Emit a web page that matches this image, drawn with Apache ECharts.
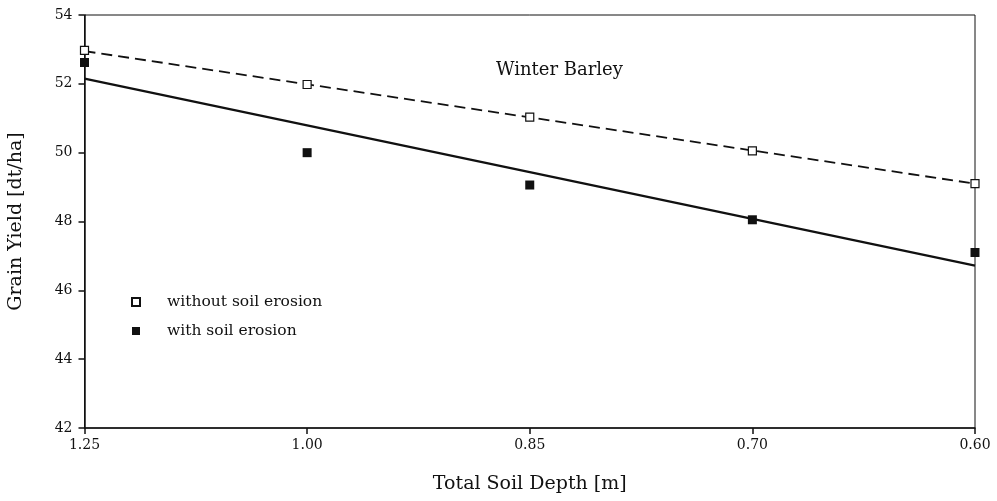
<!DOCTYPE html>
<html>
<head>
<meta charset="utf-8">
<script src="https://cdn.jsdelivr.net/npm/echarts@6/dist/echarts.min.js"></script>
<style>
  html, body { margin: 0; padding: 0; background: #fff; }
  #main { width: 997px; height: 501px; }
</style>
</head>
<body>
<div id="main"></div>
<script>
// soil depth categories (x axis, decreasing)
var depthLabels = ['1.25', '1.00', '0.85', '0.70', '0.60'];
// grain yield, dt/ha
var withoutErosion = [52.97, 51.98, 51.03, 50.05, 49.1];
var withErosion = [52.62, 50.0, 49.06, 48.05, 47.1];
var fitWithout = [52.95, null, null, null, 49.1];
var fitWith = [52.15, null, null, null, 46.72];

var serif = 'DejaVu Serif';

var myChart = echarts.init(document.getElementById('main'));

var option = {
    backgroundColor: '#fff',
    animation: false,
    title: {
        text: 'Winter Barley',
        left: 491,
        top: 56,
        textStyle: { fontFamily: serif, fontSize: 18, fontWeight: 'normal', color: '#111' }
    },
    legend: {
        data: ['without soil erosion', 'with soil erosion'],
        orient: 'vertical',
        left: 126,
        top: 289,
        itemWidth: 8,
        itemHeight: 8,
        itemGap: 13,
        textStyle: { fontFamily: serif, fontSize: 15.5, color: '#111', padding: [0, 0, 0, 22] }
    },
    grid: {
        left: 84.5,
        right: 22,
        top: 15,
        bottom: 73,
        outerBoundsMode: 'none',
        show: true,
        borderColor: '#111',
        borderWidth: 1
    },
    xAxis: {
        type: 'category',
        data: depthLabels,
        boundaryGap: false,
        name: 'Total Soil Depth [m]',
        nameLocation: 'middle',
        nameGap: 47,
        nameTextStyle: { fontFamily: serif, fontSize: 19, color: '#111' },
        axisLine: { lineStyle: { color: '#111', width: 1.5 } },
        axisTick: { show: true, length: 6, lineStyle: { color: '#111', width: 1.5 } },
        axisLabel: { fontFamily: serif, fontSize: 14, color: '#111', margin: 10 },
        splitLine: { show: false }
    },
    yAxis: {
        type: 'value',
        min: 42,
        max: 54,
        interval: 2,
        name: 'Grain Yield [dt/ha]',
        nameLocation: 'middle',
        nameGap: 59,
        nameTextStyle: { fontFamily: serif, fontSize: 19, color: '#111' },
        axisLine: { show: true, lineStyle: { color: '#111', width: 1.5 } },
        axisTick: { show: true, length: 6, lineStyle: { color: '#111', width: 1.5 } },
        axisLabel: { fontFamily: serif, fontSize: 14, color: '#111', margin: 12 },
        splitLine: { show: false }
    },
    series: [
        {
            name: 'fit without',
            type: 'line',
            data: fitWithout,
            connectNulls: true,
            showSymbol: false,
            symbol: 'none',
            lineStyle: { color: '#111', width: 1.8, type: [11, 6] },
            z: 2
        },
        {
            name: 'fit with',
            type: 'line',
            data: fitWith,
            connectNulls: true,
            showSymbol: false,
            symbol: 'none',
            lineStyle: { color: '#111', width: 2.2 },
            z: 2
        },
        {
            name: 'without soil erosion',
            type: 'scatter',
            data: withoutErosion,
            symbol: 'rect',
            symbolSize: 8,
            itemStyle: { color: '#fff', borderColor: '#111', borderWidth: 1.2, opacity: 1 },
            z: 3
        },
        {
            name: 'with soil erosion',
            type: 'scatter',
            data: withErosion,
            symbol: 'rect',
            symbolSize: 9,
            itemStyle: { color: '#111', opacity: 1 },
            z: 3
        }
    ]
};

myChart.setOption(option);
</script>
</body>
</html>
